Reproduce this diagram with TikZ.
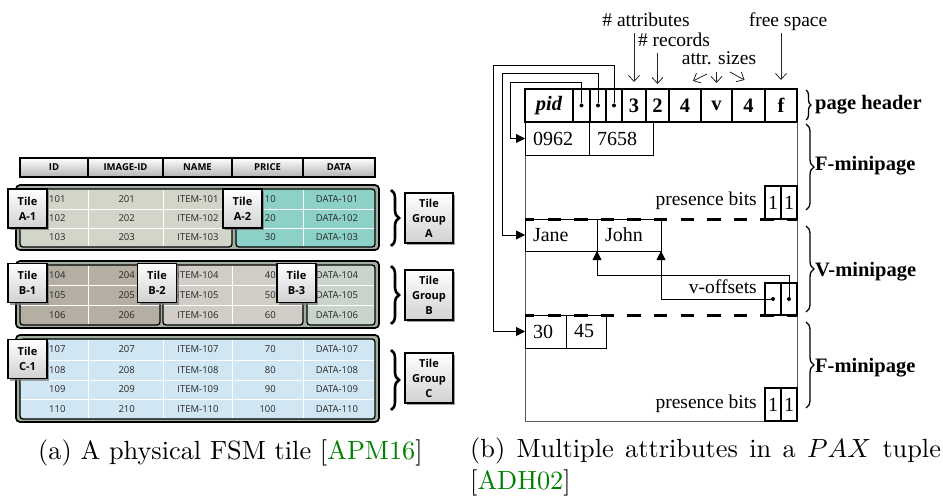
\documentclass[tikz,border=0pt]{standalone}
\usepackage{fontspec}
\usepackage{tikz}
\usetikzlibrary{shapes,arrows,arrows.meta,positioning,calc,shadows,decorations.pathreplacing}
\newfontfamily\tilefont{Open Sans}
\newfontfamily\paxfont{Liberation Serif}
\definecolor{grpgray}{HTML}{A3AFA3}
\definecolor{tileAa}{HTML}{D2D6C8}
\definecolor{tileAb}{HTML}{8CD0C8}
\definecolor{tileBa}{HTML}{B4AEA3}
\definecolor{tileBb}{HTML}{D0CDC6}
\definecolor{tileBc}{HTML}{C8D4CC}
\definecolor{tileCa}{HTML}{D0E6F3}
\definecolor{citegreen}{rgb}{0,0.5,0}

\tikzset{
  % (a) tiles
  hdrcell/.style={draw, line width=1.2pt, top color=white, bottom color=black!30, minimum height=19pt, inner sep=0pt, outer sep=0pt, font=\tilefont\bfseries\fontsize{9.5}{11}\selectfont},
  grpbox/.style={draw, line width=1.7pt, rounded corners=4pt, fill=grpgray},
  tilebox/.style={draw, line width=1.3pt, rounded corners=3pt},
  gridln/.style={white, line width=0.8pt},
  val/.style={inner sep=0pt, font=\tilefont\fontsize{9.5}{11}\selectfont, text=black!85},
  tilelbl/.style={draw, line width=1.1pt, top color=white, bottom color=black!18, minimum width=39pt, minimum height=39pt, inner sep=0pt, align=center, font=\tilefont\bfseries\fontsize{11}{15}\selectfont, drop shadow={shadow xshift=2pt, shadow yshift=-2pt, fill=black!55, opacity=0.7}},
  grplbl/.style={tilelbl, minimum width=48pt, minimum height=50pt},
  tbrace/.style={decorate, decoration={brace, amplitude=8pt}, line width=2.6pt},
  % (b) pax page
  hcell/.style={draw, line width=1.4pt, minimum height=33pt, inner sep=0pt, outer sep=0pt, font=\paxfont\bfseries\fontsize{20.5}{22}\selectfont},
  dcell/.style={draw, line width=0.8pt, minimum height=33pt, text width=#1, inner xsep=8pt, inner ysep=0pt, outer sep=0pt, align=left, font=\paxfont\fontsize{20}{22}\selectfont},
  bitcell/.style={draw, line width=1.2pt, minimum width=16pt, minimum height=33pt, inner sep=0pt, outer sep=0pt, font=\paxfont\fontsize{20}{22}\selectfont},
  dotn/.style={circle, fill, inner sep=0pt, minimum size=4pt},
  paxtxt/.style={inner sep=0pt, font=\paxfont\fontsize{19.5}{22}\selectfont},
  paxbold/.style={inner sep=0pt, font=\paxfont\bfseries\fontsize{20.5}{22}\selectfont},
  pageln/.style={black!65, line width=0.9pt},
  minisep/.style={line width=3pt, dash pattern=on 13.3pt off 13.3pt, dash phase=4pt},
  ptr/.style={-{Triangle[length=9pt,width=9pt]}, line width=0.8pt},
  note/.style={-{Straight Barb[length=6pt,width=11pt]}, line width=0.8pt, black!85},
  pbrace/.style={decorate, decoration={brace, amplitude=#1}, line width=1.3pt},
  capt/.style={inner sep=0pt, font=\fontsize{10}{12}\selectfont},
}
\newcommand{\capscale}[1]{\scalebox{2.63}{#1}}

\begin{document}
\begin{tikzpicture}[x=1pt,y=-1pt]
\useasboundingbox (0,0) rectangle (943,500);

%% (a) the tile layout
\node[hdrcell, minimum width=68pt] (hID) at (54,167.5) {ID};
\node[hdrcell, minimum width=75pt, right=0pt of hID] (hIMG) {IMAGE-ID};
\node[hdrcell, minimum width=69pt, right=0pt of hIMG] (hNAME) {NAME};
\node[hdrcell, minimum width=71pt, right=0pt of hNAME] (hPRICE) {PRICE};
\node[hdrcell, minimum width=72pt, right=0pt of hPRICE] (hDATA) {DATA};

% group A
\draw[grpbox] (16,185) rectangle (379,250);
\draw[tilebox, fill=tileAa] (20,189) rectangle (232,247);
\draw[tilebox, fill=tileAb] (236,189) rectangle (375,247);
\draw[gridln] (21,209) -- (231,209) (21,228) -- (231,228) (88,190) -- (88,246) (163,190) -- (163,246);
\draw[gridln] (237,209) -- (374,209) (237,228) -- (374,228) (303,190) -- (303,246);
% group B
\draw[grpbox] (16,261) rectangle (379,328);
\draw[tilebox, fill=tileBa] (20,265) rectangle (160,325);
\draw[tilebox, fill=tileBb] (163,265) rectangle (303,325);
\draw[tilebox, fill=tileBc] (307,265) rectangle (375,325);
\draw[gridln] (21,285) -- (159,285) (21,305) -- (159,305) (88,266) -- (88,324);
\draw[gridln] (164,285) -- (302,285) (164,305) -- (302,305) (232,266) -- (232,324);
\draw[gridln] (308,285) -- (374,285) (308,305) -- (374,305);
% group C
\draw[grpbox] (16,335) rectangle (379,422);
\draw[tilebox, fill=tileCa] (20,339) rectangle (375,419);
\draw[gridln] (21,360) -- (374,360) (21,380) -- (374,380) (21,399) -- (374,399);
\draw[gridln] (88,340) -- (88,418) (163,340) -- (163,418) (232,340) -- (232,418) (303,340) -- (303,418);

\foreach \n/\p/\y in {01/10/199, 02/20/218.5, 03/30/237.5, 04/40/275, 05/50/295, 06/60/315, 07/70/349.5, 08/80/370, 09/90/389.5, 10/100/409}{
  \node[val, anchor=west] (id\n) at (49,\y) {1\n};
  \node[val, anchor=east] (img\n) at (135,\y) {2\n};
  \node[val] (nm\n) at (198,\y) {ITEM-1\n};
  \node[val, anchor=east] (pr\n) at (276,\y) {\p};
  \node[val] (dt\n) at (337,\y) {DATA-1\n};
}

\node[tilelbl] (lA1) at (27.5,208.5) {Tile\\A-1};
\node[tilelbl] (lA2) at (242.5,208.5) {Tile\\A-2};
\node[tilelbl] (lB1) at (27.5,283) {Tile\\B-1};
\node[tilelbl] (lB2) at (157,283) {Tile\\B-2};
\node[tilelbl] (lB3) at (296.5,283) {Tile\\B-3};
\node[tilelbl] (lC1) at (27.5,359) {Tile\\C-1};

\draw[tbrace] (391,190) -- (391,246);
\draw[tbrace] (391,266) -- (391,324);
\draw[tbrace] (391,350) -- (391,410);
\node[grplbl] (gA) at (429,218) {Tile\\Group\\A};
\node[grplbl] (gB) at (429,295) {Tile\\Group\\B};
\node[grplbl] (gC) at (429,378) {Tile\\Group\\C};

%% (b) the PAX page
\node[hcell, minimum width=48pt, anchor=north west] (hpid) at (525,89) {\itshape pid};
\node[hcell, minimum width=17pt, right=0pt of hpid] (hp1) {};
\node[hcell, minimum width=16pt, right=0pt of hp1] (hp2) {};
\node[hcell, minimum width=16pt, right=0pt of hp2] (hp3) {};
\node[hcell, minimum width=24pt, right=0pt of hp3] (h3) {3};
\node[hcell, minimum width=23pt, right=0pt of h3] (h2) {2};
\node[hcell, minimum width=32pt, right=0pt of h2] (h4a) {4};
\node[hcell, minimum width=31pt, right=0pt of h4a] (hv) {v};
\node[hcell, minimum width=33pt, right=0pt of hv] (h4b) {4};
\node[hcell, minimum width=32pt, right=0pt of h4b] (hf) {f};
\node[dotn] (d1) at (hp1.center) {};
\node[dotn] (d2) at (hp2.center) {};
\node[dotn] (d3) at (hp3.center) {};

\coordinate (pgbot) at (797,421);
\draw[pageln] (hpid.south west) |- (pgbot) -- (hf.south east);

\node[dcell=48pt, anchor=north west] (c0962) at (525,122) {0962};
\node[dcell=48pt, right=0pt of c0962] (c7658) {7658};
\node[dcell=56pt, minimum height=32pt, anchor=north west] (cJane) at (525,219) {Jane};
\node[dcell=48pt, minimum height=32pt, right=0pt of cJane] (cJohn) {John};
\node[dcell=25pt, anchor=north west] (c30) at (525,315) {30};
\node[dcell=24pt, right=0pt of c30] (c45) {45};

\node[bitcell, anchor=north west] (pbA1) at (765,186) {1};
\node[bitcell, right=0pt of pbA1] (pbA2) {1};
\node[bitcell, minimum height=32pt, anchor=north west] (vo1) at (765,283) {};
\node[bitcell, minimum height=32pt, right=0pt of vo1] (vo2) {};
\node[bitcell, anchor=north west] (pbB1) at (765,388) {1};
\node[bitcell, right=0pt of pbB1] (pbB2) {1};
\node[dotn] (vd1) at (vo1.center) {};
\node[dotn] (vd2) at (vo2.center) {};

\draw[minisep] (525,219) -- (797,219);
\draw[minisep] (525,315) -- (797,315);

\node[paxtxt, anchor=base east] (tpbA) at (757,205) {presence bits};
\node[paxtxt, anchor=base east] (tvo) at (757,293) {v-offsets};
\node[paxtxt, anchor=base east] (tpbB) at (757,408) {presence bits};

% pointers
\draw[ptr] (d1) |- (510,82) |- (c0962.west);
\draw[ptr] (d2) |- (502,73) |- (cJane.west);
\draw[ptr] (d3) |- (493,65) |- (c30.west);
\draw[ptr] (vd2) |- (597,275) -- (cJane.south east);
\draw[ptr] (vd1) -| (cJohn.south east);

% header notes
\node[paxtxt, anchor=base] (nattr) at (646,27) {\# attributes};
\node[paxtxt, anchor=base] (nrec) at (674,47) {\# records};
\node[paxtxt, anchor=base] (nsize) at (719,65) {attr. sizes};
\node[paxtxt, anchor=base] (nfree) at (788,27) {free space};
\draw[note] (nattr.base -| h3.north) ++(0,6) -- ($(h3.north)+(0,-7)$);
\draw[note] (nrec.base -| h2.north) ++(0,6) -- ($(h2.north)+(0,-5)$);
\draw[note] ($(nsize.base)+(-12,9)$) -- ($(h4a.north)+(8,-8)$);
\draw[note] (nsize.base -| hv.north) ++(0,7) -- ($(hv.north)+(0,-6)$);
\draw[note] ($(nsize.base)+(11,7)$) -- ($(h4b.north)+(-4,-9)$);
\draw[note] (nfree.base -| hf.north) ++(0,6) -- ($(hf.north)+(0,-9)$);

% minipage braces
\draw[pbrace=5pt] (806,90) -- (806,120);
\draw[pbrace=8pt] (806,124) -- (806,210);
\draw[pbrace=8pt] (806,226) -- (806,312);
\draw[pbrace=8pt] (806,322) -- (806,408);
\node[paxbold, anchor=base west] (lhdr) at (815,110) {page header};
\node[paxbold, anchor=base west] (lF1) at (815,171) {F-minipage};
\node[paxbold, anchor=base west] (lV) at (815,276) {V-minipage};
\node[paxbold, anchor=base west] (lF2) at (815,372) {F-minipage};

%% captions
\node[capt, anchor=base west] (capa) at (38,459) {\capscale{(a) A physical FSM tile [\textcolor{citegreen}{APM16}]}};
\node[capt, anchor=north west] (capb) at (470,438) {\capscale{\parbox[t]{179pt}{\fontsize{10}{12}\selectfont(b) Multiple attributes in a $PAX$ tuple [\textcolor{citegreen}{ADH02}]}}};
\end{tikzpicture}
\end{document}
